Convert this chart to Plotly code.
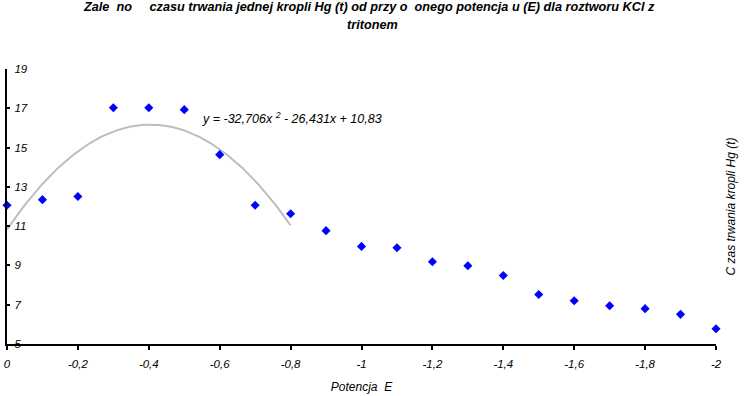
import numpy as np
import plotly.graph_objects as go

# Data
potential_E = [0, -0.1, -0.2, -0.3, -0.4, -0.5, -0.6, -0.7, -0.8, -0.9, -1.0,
               -1.1, -1.2, -1.3, -1.4, -1.5, -1.6, -1.7, -1.8, -1.9, -2.0]
drop_time_t = [12.06, 12.35, 12.51, 17.03, 17.03, 16.93, 14.64, 12.06, 11.63, 10.77, 9.97,
               9.90, 9.19, 8.98, 8.49, 7.52, 7.20, 6.95, 6.80, 6.51, 5.78]

# Trendline coefficients shown on the chart (a*x^2 + b*x + c), over E from 0 to -0.8
trend_coeffs = [-32.706, -26.431, 10.83]
trend_range = [0, -0.8]

x_tickvals = [0, -0.2, -0.4, -0.6, -0.8, -1, -1.2, -1.4, -1.6, -1.8, -2]
x_ticktext = ["0", "-0,2", "-0,4", "-0,6", "-0,8", "-1", "-1,2", "-1,4", "-1,6", "-1,8", "-2"]
y_tickvals = [5, 7, 9, 11, 13, 15, 17, 19]

title_line1 = "Zale  no     czasu trwania jednej kropli Hg (t) od przy o  onego potencja u (E) dla roztworu KCl z"
title_line2 = "tritonem"
equation_text = "y = -32,706x <sup>2</sup> - 26,431x + 10,83"
x_title = "Potencja  E"
y_title = "C zas trwania kropli Hg (t)"

FONT = "Liberation Sans, Arial, sans-serif"

tx = np.linspace(trend_range[0], trend_range[1], 200)
ty = np.polyval(trend_coeffs, tx)

fig = go.Figure()
fig.add_trace(go.Scatter(x=tx, y=ty, mode="lines",
                         line=dict(color="#bdbdbd", width=2),
                         hoverinfo="skip", showlegend=False))
fig.add_trace(go.Scatter(x=potential_E, y=drop_time_t, mode="markers",
                         marker=dict(symbol="diamond", size=7, color="#0000ff"),
                         cliponaxis=False, showlegend=False))

fig.update_layout(
    width=748, height=396,
    margin=dict(l=4, r=32, t=69, b=52),
    paper_bgcolor="white", plot_bgcolor="white",
    font=dict(family=FONT, size=11, color="black"),
    showlegend=False,
    xaxis=dict(range=[0, -2], tickvals=x_tickvals, ticktext=x_ticktext,
               showgrid=False, zeroline=False, showline=True, linecolor="black", linewidth=1.5,
               ticks="outside", ticklen=4, tickcolor="black", tickwidth=1.5,
               ticklabelstandoff=4, ticklabeloverflow="allow",
               tickfont=dict(family=FONT, size=11.5, style="italic", color="black"),
               title=dict(text="<i>" + x_title + "</i>", standoff=14,
                          font=dict(family=FONT, size=12))),
    yaxis=dict(range=[5, 19], tickvals=y_tickvals,
               showgrid=False, zeroline=False, showline=True, linecolor="black", linewidth=1.5,
               ticks="inside", ticklen=3, tickcolor="black", tickwidth=1.5,
               ticklabelposition="inside", ticklabelstandoff=4, ticklabeloverflow="allow",
               tickfont=dict(family=FONT, size=11.5, style="italic", color="black")),
    annotations=[
        dict(text="<b><i>" + title_line1 + "</i></b>", x=0.51, y=1, xref="paper", yref="paper",
             xanchor="center", yanchor="middle", yshift=62, showarrow=False,
             font=dict(family=FONT, size=12.7, color="black")),
        dict(text="<b><i>" + title_line2 + "</i></b>", x=0.515, y=1, xref="paper", yref="paper",
             xanchor="center", yanchor="middle", yshift=44, showarrow=False,
             font=dict(family=FONT, size=12.7, color="black")),
        dict(text="<i>" + equation_text + "</i>", x=-0.545, y=16.5, xref="x", yref="y",
             xanchor="left", yanchor="middle", showarrow=False,
             font=dict(family=FONT, size=12.5, color="black")),
        dict(text="<i>" + y_title + "</i>", x=1, y=0.5, xref="paper", yref="paper",
             xanchor="center", yanchor="middle", xshift=14, textangle=-90, showarrow=False,
             font=dict(family=FONT, size=12, color="black")),
    ],
)

fig.write_html("out.html", config={"displayModeBar": False},
               post_script="document.body.style.margin='0';")
